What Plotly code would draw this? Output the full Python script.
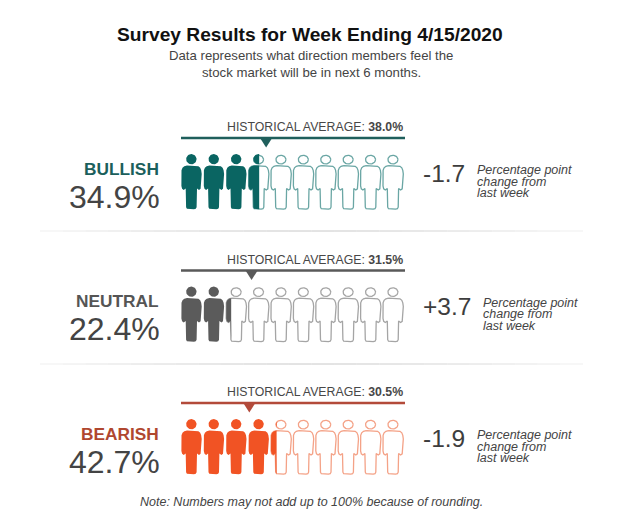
import plotly.graph_objects as go
import numpy as np

# ---------------- data ----------------
title_text = "Survey Results for Week Ending 4/15/2020"
subtitle_lines = ["Data represents what direction members feel the",
                  "stock market will be in next 6 months."]
sentiments = ["BULLISH", "NEUTRAL", "BEARISH"]
current_pct = [34.9, 22.4, 42.7]
historical_avg = [38.0, 31.5, 30.5]
weekly_change = [-1.7, 3.7, -1.9]
change_caption = ["Percentage point", "change from", "last week"]
note_text = "Note: Numbers may not add up to 100% because of rounding."

# ---------------- styles ----------------
label_colors = ["#1b5f5c", "#555555", "#b0472f"]
fill_colors = ["#0a6562", "#5b5b5b", "#f15324"]
outline_colors = ["#6aa6a4", "#a5a5a5", "#f4a287"]
line_colors = ["#1f5f5c", "#595959", "#b34a3a"]
FONT = "Liberation Sans, Arial, sans-serif"

W, H = 626, 531
PAGE_MARGIN = 8      # browser body margin
PX_LEFT = 181.0      # page pixel where 0% of the icon scale sits
PX_PER_PCT = 2.24    # pixels per percent (10 icons over 224 px)
ICON_W = 20.7        # icon width in px
ROW_LINE_Y = [138, 270.5, 403]


def xp(px):
    return (px - PX_LEFT) / PX_PER_PCT


# person icon body (relative px coords: x 0..ICON_W, y 0..55 from top of head)
BODY = [(6.0, 11.6), (14.7, 11.6), (17.4, 12.3), (19.2, 13.8), (20.2, 16.3), (20.7, 20.0),
        (20.3, 32.0), (19.6, 34.8), (18.0, 36.0), (16.0, 34.5),
        (15.6, 53.2), (14.8, 54.7), (13.0, 55.2), (7.7, 55.2), (5.9, 54.7), (5.1, 53.2),
        (4.7, 34.5), (2.7, 36.0), (1.1, 34.8), (0.4, 32.0), (0.0, 20.0),
        (0.5, 16.3), (1.5, 13.8), (3.3, 12.3)]


def ellipse(cx, cy, rx, ry, n=36):
    t = np.linspace(0, 2 * np.pi, n, endpoint=False)
    return [(cx + rx * np.cos(a), cy + ry * np.sin(a)) for a in t]


HEAD_FILL = ellipse(10.35, 5.2, 5.2, 5.1)
HEAD_OUT = ellipse(10.35, 5.6, 5.0, 4.3)


def clip_x(poly, xmax):
    out = []
    n = len(poly)
    for k in range(n):
        cx, cy = poly[k]
        px_, py_ = poly[k - 1]
        cin = cx <= xmax
        pin = px_ <= xmax
        if cin:
            if not pin:
                t = (xmax - px_) / (cx - px_)
                out.append((xmax, py_ + t * (cy - py_)))
            out.append((cx, cy))
        elif pin:
            t = (xmax - px_) / (cx - px_)
            out.append((xmax, py_ + t * (cy - py_)))
    return out


def to_data(poly, i, top, close=True):
    xs = [10 * i + p[0] / PX_PER_PCT for p in poly]
    ys = [top + p[1] for p in poly]
    if close and poly:
        xs.append(xs[0]); ys.append(ys[0])
    return xs, ys


fig = go.Figure()
ann = []

# faded separators (gradient towards both ends)
for sy in [231, 364]:
    segs = 24
    edges = np.linspace(xp(40), xp(583), segs + 1)
    for s in range(segs):
        d = abs((s + 0.5) / segs - 0.5) * 2  # 0 centre, 1 ends
        g = int(200 + 42 * d ** 1.5)
        fig.add_trace(go.Scatter(x=[edges[s], edges[s + 1]], y=[sy, sy], mode="lines",
                                 hoverinfo="skip",
                                 line=dict(color=f"rgb({g},{g},{g})", width=1)))

for r, name in enumerate(sentiments):
    ly = ROW_LINE_Y[r]
    top = ly + 16
    val = current_pct[r]

    # outlines for icons not completely filled
    ox, oy = [], []
    for i in range(10):
        if 10 * i + ICON_W / PX_PER_PCT <= val:
            continue
        for shape in (BODY, HEAD_OUT):
            xs, ys = to_data(shape, i, top)
            ox += xs + [None]; oy += ys + [None]
    fig.add_trace(go.Scatter(x=ox, y=oy, mode="lines", hoverinfo="skip",
                             line=dict(color=outline_colors[r], width=1.3)))

    # filled parts
    fx, fy = [], []
    for i in range(10):
        if 10 * i >= val:
            continue
        xmax_rel = (val - 10 * i) * PX_PER_PCT
        for shape in (BODY, HEAD_FILL):
            clipped = clip_x(shape, xmax_rel)
            if len(clipped) < 3:
                continue
            xs, ys = to_data(clipped, i, top)
            fx += xs + [None]; fy += ys + [None]
    fig.add_trace(go.Scatter(x=fx, y=fy, mode="lines", fill="toself", hoverinfo="skip",
                             fillcolor=fill_colors[r], line=dict(width=0, color=fill_colors[r])))

    # historical average line + marker
    fig.add_trace(go.Scatter(x=[0, 100], y=[ly, ly], mode="lines", hoverinfo="skip",
                             line=dict(color=line_colors[r], width=2.4)))
    h = historical_avg[r]
    fig.add_trace(go.Scatter(x=[h - 2.7, h + 2.7, h, h - 2.7], y=[ly, ly, ly + 9.5, ly],
                             mode="lines", fill="toself", fillcolor=line_colors[r],
                             line=dict(width=0, color=line_colors[r]), hoverinfo="skip"))

    ann.append(dict(x=100, y=ly - 11, xanchor="right", yanchor="middle",
                    text=f"HISTORICAL AVERAGE: <b>{h:.1f}%</b>",
                    font=dict(family=FONT, size=12.3, color="#474747")))
    ann.append(dict(x=xp(161), y=ly + 30.5, xanchor="right", yanchor="middle",
                    text=f"<b>{name}</b>",
                    font=dict(family=FONT, size=17.3, color=label_colors[r])))
    ann.append(dict(x=xp(162), y=ly + 58.5, xanchor="right", yanchor="middle",
                    text=f"{val:.1f}%",
                    font=dict(family=FONT, size=32, color="#444444")))

    chg = f"{weekly_change[r]:+.1f}"
    ann.append(dict(x=xp(421), y=ly + 35.5, xanchor="left", yanchor="middle",
                    text=chg, font=dict(family=FONT, size=24.5, color="#3d3d3d")))
    cw = {"+": 0.584, "-": 0.333, ".": 0.278}
    num_w = sum(cw.get(c, 0.556) for c in chg) * 24.5
    for k, line in enumerate(change_caption):
        ann.append(dict(x=xp(423 + num_w + 10), y=ly + 32 + 11.6 * k,
                        xanchor="left", yanchor="middle",
                        text=f"<i>{line}</i>",
                        font=dict(family=FONT, size=12.5, color="#444444")))

ann.append(dict(x=xp(310), y=34, xanchor="center", yanchor="middle",
                text=f"<b>{title_text}</b>",
                font=dict(family=FONT, size=19.2, color="#111111")))
for k, line in enumerate(subtitle_lines):
    ann.append(dict(x=xp(311), y=55.5 + 16.5 * k, xanchor="center", yanchor="middle",
                    text=line, font=dict(family=FONT, size=13.2, color="#444444")))
ann.append(dict(x=xp(311), y=502, xanchor="center", yanchor="middle",
                text=f"<i>{note_text}</i>",
                font=dict(family=FONT, size=12.5, color="#444444")))

for a in ann:
    a.update(xref="x", yref="y", showarrow=False)

fig.update_layout(
    width=W - PAGE_MARGIN, height=H - PAGE_MARGIN, margin=dict(l=0, r=0, t=0, b=0),
    paper_bgcolor="white", plot_bgcolor="white", showlegend=False,
    xaxis=dict(range=[xp(PAGE_MARGIN), xp(W)], visible=False, fixedrange=True),
    yaxis=dict(range=[H, PAGE_MARGIN], visible=False, fixedrange=True),
    annotations=ann,
)

fig.write_html("out.html")
